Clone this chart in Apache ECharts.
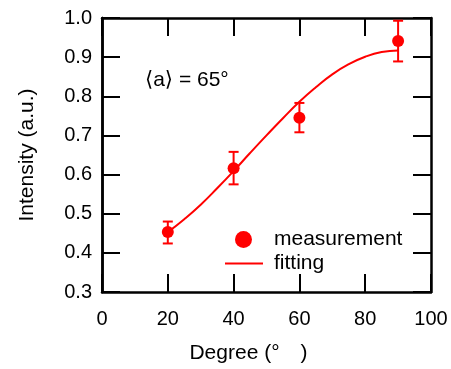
<!DOCTYPE html>
<html>
<head>
<meta charset="utf-8">
<script src="https://cdn.jsdelivr.net/npm/echarts@6/dist/echarts.min.js"></script>
<style>
  html, body { margin: 0; padding: 0; background: #fff; }
  #main { width: 451px; height: 369px; }
</style>
</head>
<body>
<div id="main"></div>
<script>
// measured points
var measX = [20, 40, 60, 90];
var measY = [0.453, 0.616, 0.745, 0.941];
var errLow = [0.424, 0.575, 0.708, 0.889];
var errHigh = [0.480, 0.658, 0.783, 0.993];

// fitted curve
var fitX = [20, 25, 30, 35, 40, 45, 50, 55, 60, 65, 70, 75, 80, 85, 90];
var fitY = [0.453, 0.486, 0.523, 0.565, 0.609, 0.655, 0.700, 0.744, 0.786, 0.823, 0.856, 0.882, 0.901, 0.913, 0.917];

var font = '"Liberation Sans", "DejaVu Sans", "Noto Sans CJK JP", sans-serif';
var red = '#ff0000';

var chart = echarts.init(document.getElementById('main'));

var measData = measX.map(function (x, i) { return [x, measY[i]]; });
var errData = measX.map(function (x, i) { return [x, errLow[i], errHigh[i]]; });
var fitData = fitX.map(function (x, i) { return [x, fitY[i]]; });

// fresh objects for each axis
function tick() {
    return {show: true, inside: true, length: 18, lineStyle: {color: '#000', width: 2}};
}
function axisLine() {
    return {onZero: false, lineStyle: {color: '#000', width: 2.5}};
}
function plainY(pos) {
    return {
        type: 'value',
        position: pos,
        offset: 0,
        min: 0.3,
        max: 1.0,
        interval: 0.1,
        axisLine: axisLine(),
        axisTick: tick(),
        axisLabel: {show: false},
        splitLine: {show: false}
    };
}

chart.setOption({
    animation: false,
    textStyle: {fontFamily: font},
    grid: {left: 102, right: 20, top: 18, bottom: 74},
    xAxis: [
        {
            type: 'value',
            min: 0,
            max: 100,
            interval: 20,
            name: 'Degree (°\u3000)',
            nameLocation: 'middle',
            nameGap: 51,
            nameTextStyle: {fontSize: 21, color: '#000', fontFamily: font, padding: [0, 36, 0, 0]},
            axisLine: axisLine(),
            axisTick: tick(),
            axisLabel: {fontSize: 20, color: '#000', margin: 17, fontFamily: font},
            splitLine: {show: false}
        },
        {
            type: 'value',
            position: 'top',
            min: 0,
            max: 100,
            interval: 20,
            axisLine: axisLine(),
            axisTick: tick(),
            axisLabel: {show: false},
            splitLine: {show: false}
        }
    ],
    yAxis: [
        {
            type: 'value',
            position: 'left',
            min: 0.3,
            max: 1.0,
            interval: 0.1,
            name: 'Intensity (a.u.)',
            nameLocation: 'middle',
            nameGap: 64,
            nameTextStyle: {fontSize: 21, color: '#000', fontFamily: font},
            axisLine: axisLine(),
            axisTick: {show: false},
            axisLabel: {
                fontSize: 20, color: '#000', margin: 10, fontFamily: font,
                formatter: function (v) { return v.toFixed(1); }
            },
            splitLine: {show: false}
        },
        plainY('right'),
        plainY('left')
    ],
    legend: [
        {
            left: 230,
            top: 224,
            itemWidth: 17,
            itemHeight: 17,
            data: [{name: 'measurement', icon: 'circle'}],
            textStyle: {fontSize: 21, color: '#000', fontFamily: font, padding: [0, 0, 0, 17]}
        },
        {
            left: 220,
            top: 248,
            itemWidth: 38,
            itemHeight: 2,
            data: [{name: 'fitting', icon: 'rect'}],
            textStyle: {fontSize: 21, color: '#000', fontFamily: font, padding: [0, 0, 0, 6]}
        }
    ],
    graphic: [
        {
            type: 'text',
            left: 145,
            top: 70,
            style: {text: '⟨a⟩ = 65°', fontSize: 21, fill: '#000', fontFamily: font}
        }
    ],
    series: [
        {
            name: 'fitting',
            type: 'line',
            data: fitData,
            smooth: true,
            symbol: 'none',
            lineStyle: {color: red, width: 2},
            itemStyle: {color: red}
        },
        {
            name: 'error',
            type: 'custom',
            data: errData,
            renderItem: function (params, api) {
                var x = api.value(0);
                var lo = api.coord([x, api.value(1)]);
                var hi = api.coord([x, api.value(2)]);
                var hw = 5;
                var style = {stroke: red, lineWidth: 2};
                return {
                    type: 'group',
                    children: [
                        {type: 'line', shape: {x1: lo[0], y1: lo[1], x2: hi[0], y2: hi[1]}, style: style},
                        {type: 'line', shape: {x1: lo[0] - hw, y1: lo[1], x2: lo[0] + hw, y2: lo[1]}, style: style},
                        {type: 'line', shape: {x1: hi[0] - hw, y1: hi[1], x2: hi[0] + hw, y2: hi[1]}, style: style}
                    ]
                };
            }
        },
        {
            name: 'measurement',
            type: 'scatter',
            data: measData,
            symbol: 'circle',
            symbolSize: 12,
            itemStyle: {color: red, opacity: 1}
        }
    ]
});
</script>
</body>
</html>
